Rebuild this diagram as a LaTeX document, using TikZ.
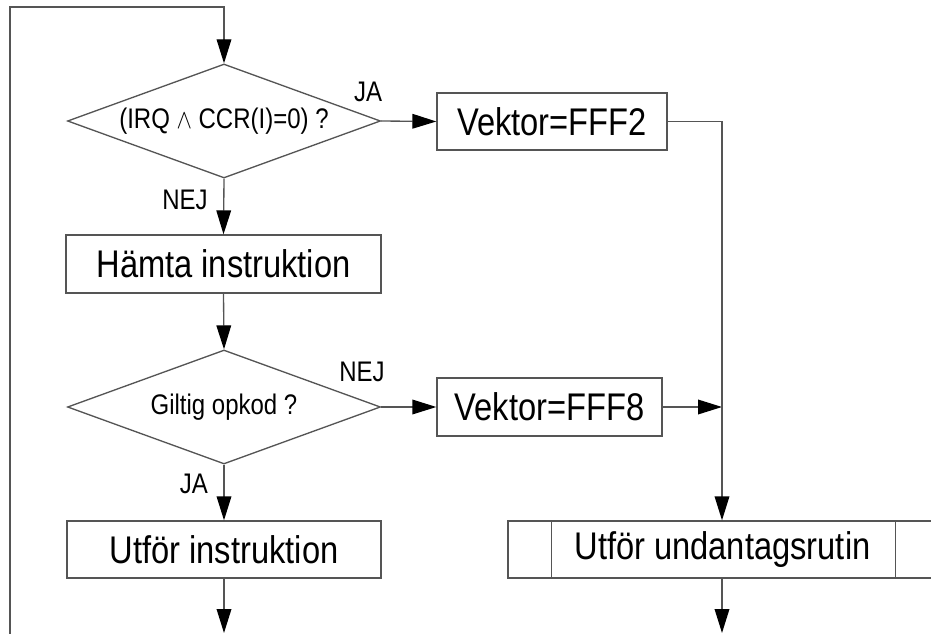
\documentclass[tikz,border=0pt]{standalone}
\usepackage{fontspec}
\setmainfont{Liberation Sans}
\usetikzlibrary{arrows.meta,shapes.geometric}
\newcommand{\vst}[1]{\scalebox{1}[1.18]{#1}}
\definecolor{ln}{HTML}{555555}
\tikzset{
  ln/.style={draw=ln, line width=1pt},
  arr/.style={ln, -{Triangle[length=18pt,width=11pt,black]}},
  boxA/.style={ln, rectangle, inner sep=0pt, font=\fontsize{24.5}{28}\selectfont},
  dec/.style={ln, diamond, aspect=2.75, inner sep=0pt, minimum width=234.75pt, minimum height=85.5pt, font=\fontsize{18}{22}\selectfont},
  lab/.style={inner sep=0pt, font=\fontsize{18}{22}\selectfont}
}
\begin{document}
\begin{tikzpicture}[x=0.75pt,y=-0.75pt]
\useasboundingbox (0,0) rectangle (931,634);
% nodes
\node[dec] (d1) at (224,121) {\vst{(IRQ $\wedge$ CCR(I)=0) ?}};
\node[boxA, minimum width=172.5pt, minimum height=42.75pt] (v2) at (552,121.5) {\vst{Vektor=FFF2}};
\node[boxA, minimum width=236.25pt, minimum height=43.5pt] (h) at (223.5,264) {\vst{Hämta instruktion}};
\node[dec] (d2) at (224,407) {\vst{Giltig opkod ?}};
\node[boxA, minimum width=168.75pt, minimum height=43.5pt] (v8) at (549.5,407) {\vst{Vektor=FFF8}};
\node[boxA, minimum width=235.5pt, minimum height=42.75pt] (u) at (224,549.5) {\vst{Utför instruktion}};
\node[boxA, minimum width=323.25pt, minimum height=42.75pt] (r) at (723.5,549.5) {};
\node[font=\fontsize{24.5}{28}\selectfont, inner sep=0pt] (rt) at (722.5,549.5) {\vst{Utför undantagsrutin}};
\draw[ln] ([xshift=33pt]r.north west) -- ([xshift=33pt]r.south west);
\draw[ln] ([xshift=-33pt]r.north east) -- ([xshift=-33pt]r.south east);
% labels
\node[lab] (ja1) at (368,92) {\vst{JA}};
\node[lab] (nej1) at (185,200) {\vst{NEJ}};
\node[lab] (nej2) at (362,372) {\vst{NEJ}};
\node[lab] (ja2) at (194,484) {\vst{JA}};
% coordinates
\coordinate (loopstart) at (10,640);
\coordinate (loopc1) at (10,7);
\coordinate (loopc2) at (224,7);
\coordinate (jct) at (722,121.5);
\coordinate (jct8) at (722,407);
\coordinate (uend) at (224,633);
\coordinate (rend) at (722,633);
% connectors
\draw[arr] (loopstart) -- (loopc1) -- (loopc2) -- (d1.north);
\draw[arr] (d1.east) -- (v2.west);
\draw[arr] (d1.south) -- (h.north);
\draw[arr] (h.south) -- (d2.north);
\draw[arr] (d2.east) -- (v8.west);
\draw[arr] (d2.south) -- (u.north);
\draw[arr] (v8.east) -- (jct8);
\draw[arr] (v2.east) -- (jct) -- (jct |- r.north);
\draw[arr] (u.south) -- (uend);
\draw[arr] (r.south -| jct) -- (rend);
\end{tikzpicture}
\end{document}
